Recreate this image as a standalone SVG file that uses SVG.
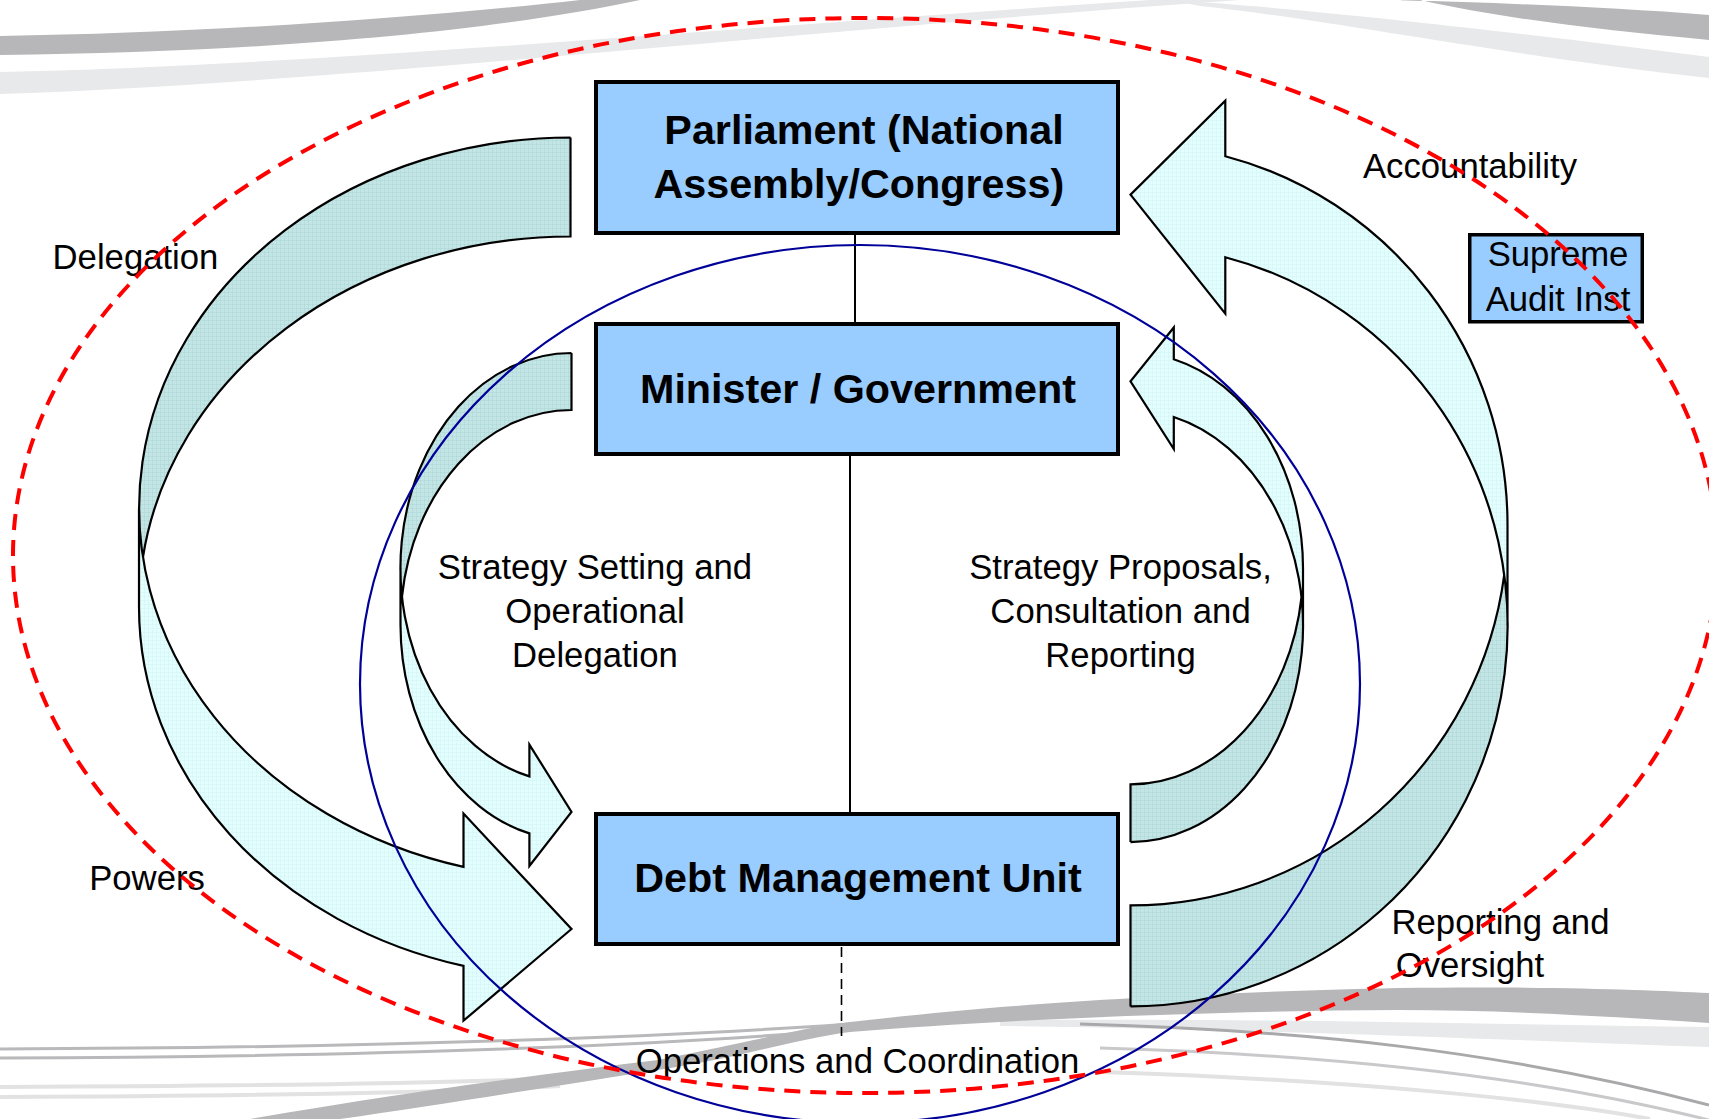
<svg xmlns="http://www.w3.org/2000/svg" width="1709" height="1119" viewBox="0 0 1709 1119">
  <defs>
    <!-- fine grid fill for the far (back) face of the curved arrows -->
    <pattern id="gridBack" width="4" height="4" patternUnits="userSpaceOnUse">
      <rect width="4" height="4" fill="#c3e5e5"/>
      <path d="M0 0.25H4M0.25 0V4" stroke="#a2cfcf" stroke-width="0.5"/>
    </pattern>
    <!-- lighter grid fill for the near (front) face -->
    <pattern id="gridFront" width="4" height="4" patternUnits="userSpaceOnUse">
      <rect width="4" height="4" fill="#e2fefe"/>
      <path d="M0 0.25H4M0.25 0V4" stroke="#cfefef" stroke-width="0.5"/>
    </pattern>
    <style>
      .back{fill:url(#gridBack);stroke:none}
      .front{fill:url(#gridFront);stroke:none}
      .edge{fill:none;stroke:#000;stroke-width:2.2;stroke-linejoin:miter}
      .box{fill:#99ccff;stroke:#000;stroke-width:4}
      .title{font-family:"Liberation Sans",Arial,sans-serif;font-weight:bold;font-size:41.3px;text-anchor:middle;fill:#000}
      .lbl{font-family:"Liberation Sans",Arial,sans-serif;font-size:34.7px;text-anchor:middle;fill:#000}
      .link{fill:none;stroke:#000;stroke-width:2}
      .dash{fill:none;stroke:#000;stroke-width:1.6;stroke-dasharray:10 6}
      .sw-dark{fill:#b7b7b9}
      .sw-light{fill:#e8e9ea}
      .sw-line{fill:none;stroke:#b9b9bb;stroke-width:3}
      .sw-faint{fill:none;stroke:#e2e2e2;stroke-width:4}
    </style>
  </defs>

  <rect width="1709" height="1119" fill="#ffffff"/>

  <!-- background swooshes -->
  <g id="background">
    <path class="sw-light" d="M0,72 C300,66 700,30 1150,0 L1240,0 C800,30 350,82 0,94 Z"/>
    <path class="sw-dark" d="M0,36 C200,33 420,18 580,0 L640,0 C500,30 280,52 0,55 Z"/>
    <path class="sw-light" d="M1170,0 C1300,8 1500,30 1709,57 L1709,78 C1500,55 1320,18 1200,6 Z"/>
    <path class="sw-dark" d="M1400,0 C1500,3 1610,7 1709,15 L1709,40 C1600,30 1500,18 1420,0 Z"/>

    <path class="sw-light" d="M1000,1020 C1300,1018 1500,1025 1709,1027 L1709,1047 C1500,1040 1300,1030 1000,1026 Z"/>
    <path class="sw-faint" d="M0,1087 C250,1086 450,1083 560,1078"/>
    <path class="sw-faint" d="M0,1097 C250,1096 450,1092 560,1086"/>
    <path class="sw-faint" d="M1100,1072 C1350,1080 1550,1100 1650,1119"/>
    <path class="sw-line" d="M0,1049 C300,1048 600,1042 880,1022"/>
    <path class="sw-line" d="M0,1058 C300,1057 620,1050 880,1027"/>
    <path class="sw-line" style="stroke:#a9a9ab" d="M1080,1024 C1300,1030 1500,1050 1709,1105"/>
    <path class="sw-line" style="stroke:#c9c9cb" d="M1100,1048 C1350,1055 1550,1080 1709,1120"/>
    <path class="sw-dark" d="M250,1119 C420,1090 560,1072 658,1060 C760,1040 800,1028 850,1022 C1000,1005 1150,994 1398,988 C1550,986 1650,990 1709,993 L1709,1023 C1600,1016 1500,1010 1398,1010 C1200,1011 1000,1020 850,1032 C790,1040 740,1058 658,1070 C560,1085 440,1105 340,1119 Z"/>
  </g>

  <g id="connectors">
    <!-- Delegation / Powers: Parliament to Debt Management Unit -->
    <g id="arrow-delegation-powers">
      <path class="back" d="M570.5,137.5 A431.5,370.5 0 0 0 139,508 A431.5,370.5 0 0 0 142.9,557.5 A431.5,370.5 0 0 1 570.5,236.5 Z"/>
      <path class="front" d="M139,508 A431.5,370.5 0 0 0 463.5,866.9 L463.5,813.6 L571.5,929 L463.5,1020.7 L463.5,965.9 A431.5,370.5 0 0 1 139,607 Z"/>
      <path class="edge" d="M570.5,137.5 A431.5,370.5 0 0 0 463.5,866.9 L463.5,813.6 L571.5,929 L463.5,1020.7 L463.5,965.9 A431.5,370.5 0 0 1 139,607 L139,508 M570.5,137.5 L570.5,236.5 A431.5,370.5 0 0 0 142.9,557.5"/>
    </g>
    <!-- Strategy setting: Minister to Debt Management Unit -->
    <g id="arrow-strategy-setting">
      <path class="back" d="M571.5,353 A171,215 0 0 0 400.5,568 A171,215 0 0 0 402,596.5 A171,215 0 0 1 571.5,410 Z"/>
      <path class="front" d="M400.5,568 A171,215 0 0 0 529.4,776.4 L529.4,744.6 L571.5,812 L529.4,866 L529.4,833.4 A171,215 0 0 1 400.5,625 Z"/>
      <path class="edge" d="M571.5,353 A171,215 0 0 0 529.4,776.4 L529.4,744.6 L571.5,812 L529.4,866 L529.4,833.4 A171,215 0 0 1 400.5,625 L400.5,568 M571.5,353 L571.5,410 A171,215 0 0 0 402,596.5"/>
    </g>
    <!-- Reporting and Oversight / Accountability: DMU to Parliament -->
    <g id="arrow-accountability">
      <path class="back" d="M1130.5,1006.4 A377,380.7 0 0 0 1507.5,625.7 A377,380.7 0 0 0 1504.2,575.2 A377,380.7 0 0 1 1130.5,905.4 Z"/>
      <path class="front" d="M1507.5,625.7 A377,380.7 0 0 0 1225.3,257.2 L1225.3,313.6 L1130.5,194.6 L1225.3,100.7 L1225.3,156.2 A377,380.7 0 0 1 1507.5,524.7 Z"/>
      <path class="edge" d="M1130.5,1006.4 A377,380.7 0 0 0 1225.3,257.2 L1225.3,313.6 L1130.5,194.6 L1225.3,100.7 L1225.3,156.2 A377,380.7 0 0 1 1507.5,524.7 L1507.5,625.7 M1130.5,1006.4 L1130.5,905.4 A377,380.7 0 0 0 1504.2,575.2"/>
    </g>
    <!-- Strategy proposals: DMU to Minister -->
    <g id="arrow-strategy-proposals">
      <path class="back" d="M1130.5,842.1 A172.5,216 0 0 0 1303,626.1 A172.5,216 0 0 0 1301.5,597.2 A172.5,216 0 0 1 1130.5,784.3 Z"/>
      <path class="front" d="M1303,626.1 A172.5,216 0 0 0 1173.8,417 L1173.8,449 L1130.5,381.4 L1173.8,327.5 L1173.8,359.2 A172.5,216 0 0 1 1303,568.3 Z"/>
      <path class="edge" d="M1130.5,842.1 A172.5,216 0 0 0 1173.8,417 L1173.8,449 L1130.5,381.4 L1173.8,327.5 L1173.8,359.2 A172.5,216 0 0 1 1303,568.3 L1303,626.1 M1130.5,842.1 L1130.5,784.3 A172.5,216 0 0 0 1301.5,597.2"/>
    </g>
    <!-- straight links between the boxes -->
    <line class="link" x1="855" y1="234" x2="855" y2="323"/>
    <line class="link" x1="850" y1="455" x2="850" y2="813"/>
    <line class="dash" x1="841.5" y1="947" x2="841.5" y2="1036"/>
  </g>

  <g id="parliament">
    <rect class="box" x="596" y="82" width="522" height="151"/>
    <text class="title" x="864" y="144">Parliament (National</text>
    <text class="title" x="858.8" y="197.5">Assembly/Congress)</text>
  </g>

  <g id="minister">
    <rect class="box" x="596" y="324" width="522" height="130"/>
    <text class="title" x="858" y="402.5">Minister / Government</text>
  </g>

  <g id="dmu">
    <rect class="box" x="596" y="814" width="522" height="130"/>
    <text class="title" x="858" y="891.5">Debt Management Unit</text>
  </g>

  <g id="supreme-audit">
    <rect class="box" style="stroke-width:3.5" x="1469.75" y="234.75" width="172.5" height="87"/>
    <text class="lbl" x="1558" y="266">Supreme</text>
    <text class="lbl" x="1558" y="311.4">Audit Inst</text>
  </g>

  <g id="labels">
    <text class="lbl" x="135.5" y="268.6">Delegation</text>
    <text class="lbl" x="147" y="890">Powers</text>
    <text class="lbl" x="1470" y="177.5">Accountability</text>
    <text class="lbl" x="595" y="578.5">Strategy Setting and</text>
    <text class="lbl" x="595" y="622.5">Operational</text>
    <text class="lbl" x="595" y="666.5">Delegation</text>
    <text class="lbl" x="1120.5" y="578.5">Strategy Proposals,</text>
    <text class="lbl" x="1120.5" y="622.5">Consultation and</text>
    <text class="lbl" x="1120.5" y="666.5">Reporting</text>
    <text class="lbl" x="1500.5" y="934">Reporting and</text>
    <text class="lbl" x="1470" y="977">Oversight</text>
    <text class="lbl" x="857.5" y="1073">Operations and Coordination</text>
  </g>

  <!-- boundary ellipses -->
  <g id="boundaries">
    <ellipse cx="860" cy="684" rx="500" ry="439" fill="none" stroke="#000099" stroke-width="2.2"/>
    <ellipse cx="865" cy="555.5" rx="852" ry="537.5" fill="none" stroke="#ff0000" stroke-width="4" stroke-dasharray="16 10"/>
  </g>
</svg>
